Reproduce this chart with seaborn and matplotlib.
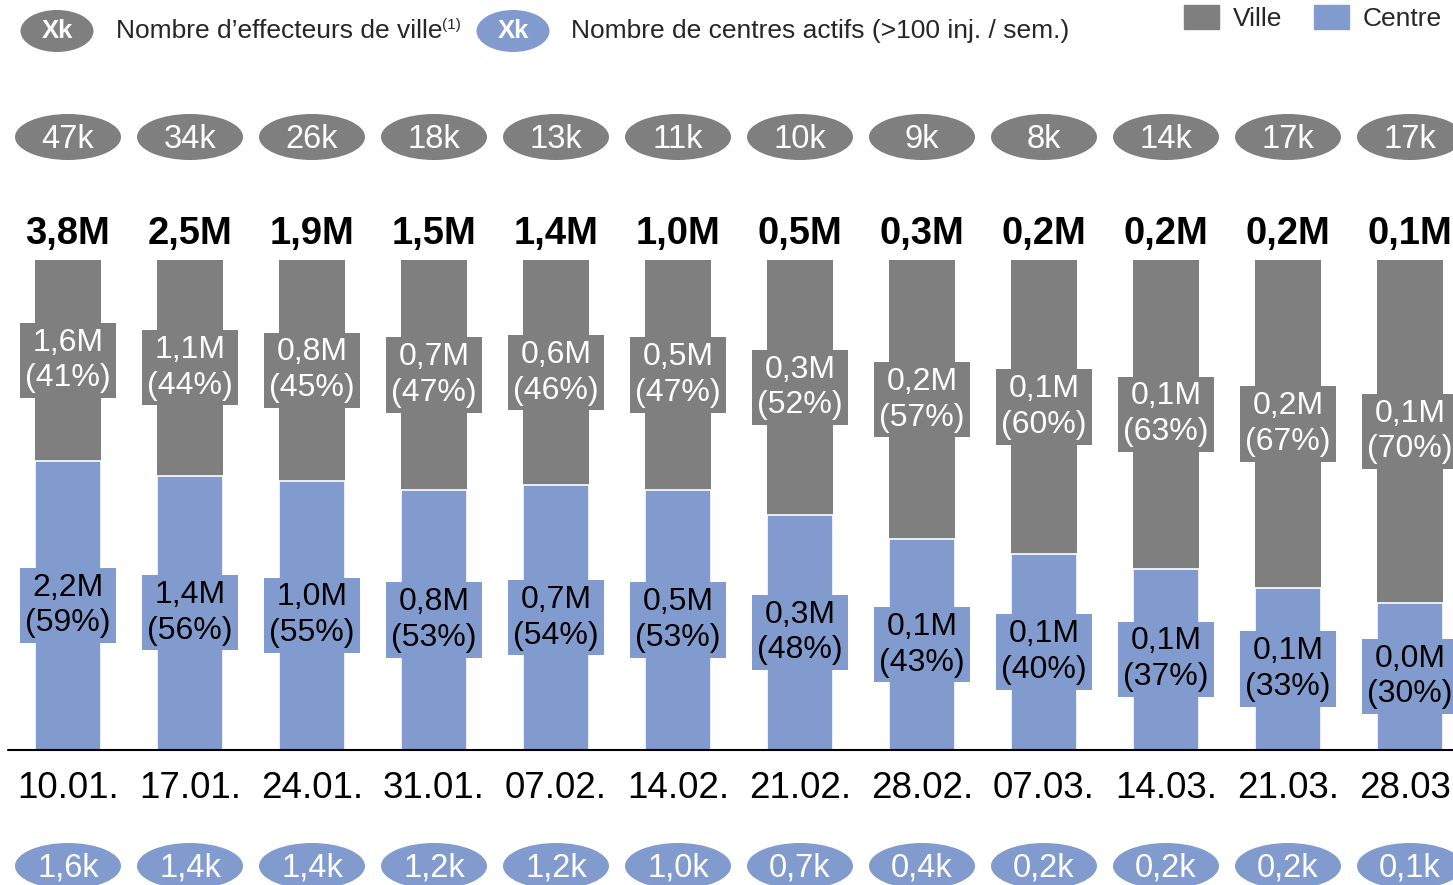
import numpy as np
import pandas as pd
import matplotlib
matplotlib.use("Agg")
import matplotlib.pyplot as plt
from matplotlib.patches import Ellipse, Patch
import seaborn as sns

# data
dates = ["10.01.", "17.01.", "24.01.", "31.01.", "07.02.", "14.02.",
         "21.02.", "28.02.", "07.03.", "14.03.", "21.03.", "28.03."]
totals = ["3,8M", "2,5M", "1,9M", "1,5M", "1,4M", "1,0M",
          "0,5M", "0,3M", "0,2M", "0,2M", "0,2M", "0,1M"]
ville_m = ["1,6M", "1,1M", "0,8M", "0,7M", "0,6M", "0,5M",
           "0,3M", "0,2M", "0,1M", "0,1M", "0,2M", "0,1M"]
centre_m = ["2,2M", "1,4M", "1,0M", "0,8M", "0,7M", "0,5M",
            "0,3M", "0,1M", "0,1M", "0,1M", "0,1M", "0,0M"]
centre_pct = [59, 56, 55, 53, 54, 53, 48, 43, 40, 37, 33, 30]
ville_pct = [41, 44, 45, 47, 46, 47, 52, 57, 60, 63, 67, 70]
effecteurs = ["47k", "34k", "26k", "18k", "13k", "11k",
              "10k", "9k", "8k", "14k", "17k", "17k"]
centres_actifs = ["1,6k", "1,4k", "1,4k", "1,2k", "1,2k", "1,0k",
                  "0,7k", "0,4k", "0,2k", "0,2k", "0,2k", "0,1k"]

GREY = "#7f7f7f"
BLUE = "#819bcf"

df = pd.DataFrame({"date": dates, "centre": centre_pct,
                   "ville": ville_pct})
df["total"] = df["centre"] + df["ville"]

sns.set_theme(style="white")
plt.rcParams["font.family"] = ["Liberation Sans", "DejaVu Sans"]

W, H = 1453, 885
fig = plt.figure(figsize=(W / 100, H / 100), dpi=100)
ax = fig.add_axes([0, 0, 1, 1])

bw = 66 / 122
sns.barplot(data=df, x="date", y="total", color=GREY, width=bw,
            saturation=1, ax=ax, edgecolor="none")
sns.barplot(data=df, x="date", y="centre", color=BLUE, width=bw,
            saturation=1, ax=ax, edgecolor="white", linewidth=1.2)

# map pixels -> data: bar centre i at px 68+122*i, y=0 at px 750, y=100 at px 260
ppu = 4.9
ax.set_xlim(-68 / 122, (W - 68) / 122)
ax.set_ylim(-(H - 750) / ppu, 750 / ppu)
ax.axis("off")


def py(p):
    return (750 - p) / ppu


ax.plot([-60 / 122, (W - 68) / 122], [0, 0], color="black", lw=1.5,
        clip_on=False, zorder=3)

for i in range(len(dates)):
    c = centre_pct[i]
    v = ville_pct[i]
    ax.text(i, c / 2, f"{centre_m[i]}\n({c}%)", ha="center", va="center",
            fontsize=23, color="black", linespacing=1.25,
            bbox=dict(boxstyle="square,pad=0.15", fc=BLUE, ec="none"))
    ax.text(i, c + v / 2, f"{ville_m[i]}\n({v}%)", ha="center", va="center",
            fontsize=23, color="white", linespacing=1.25,
            bbox=dict(boxstyle="square,pad=0.15", fc=GREY, ec="none"))
    ax.text(i, py(234), totals[i], ha="center", va="center", fontsize=27.5,
            fontweight="bold", color="black")
    ax.text(i, py(789), dates[i], ha="center", va="center", fontsize=26.5,
            color="black")
    ax.add_patch(Ellipse((i, py(137)), 106 / 122, 46 / ppu, fc=GREY,
                         ec="none"))
    ax.text(i, py(139), effecteurs[i], ha="center", va="center",
            fontsize=23.5, color="white")
    ax.add_patch(Ellipse((i, py(866)), 106 / 122, 46 / ppu, fc=BLUE,
                         ec="none", clip_on=False))
    ax.text(i, py(868), centres_actifs[i], ha="center", va="center",
            fontsize=23.5, color="white")

# top-left key
for cx, col in [(57, GREY), (513, BLUE)]:
    ax.add_patch(Ellipse(((cx - 68) / 122, py(31)), 73 / 122, 42 / ppu,
                         fc=col, ec="none"))
    ax.text((cx - 68) / 122, py(31), "Xk", ha="center", va="center",
            fontsize=18.5, fontweight="bold", color="white")
fig.text(116 / W, 1 - 31 / H, "Nombre d\u2019effecteurs de ville",
         ha="left", va="center", fontsize=19)
fig.text(442 / W, 1 - 25 / H, "(1)", ha="left", va="center", fontsize=11)
fig.text(571 / W, 1 - 31 / H, "Nombre de centres actifs (>100 inj. / sem.)",
         ha="left", va="center", fontsize=19)

handles = [Patch(color=GREY, label="Ville"), Patch(color=BLUE, label="Centre")]
fig.legend(handles=handles, loc="upper right", bbox_to_anchor=(1.0085, 1.021),
           ncol=2, frameon=False, fontsize=19, handlelength=1.35,
           handleheight=1.0, handletextpad=0.5, columnspacing=1.2)

fig.savefig("out.png", dpi=100)
